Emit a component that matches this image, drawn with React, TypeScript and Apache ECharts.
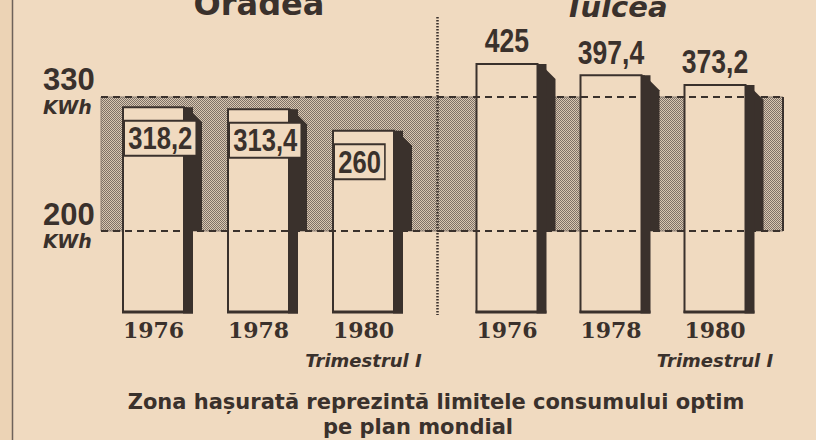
import React, { useEffect, useRef } from 'react';
import * as echarts from 'echarts';

// ---------- data ----------
const years = ['1976', '1978', '1980'];
const oradeaValues = [318.2, 313.4, 260];
const tulceaValues = [425, 397.4, 373.2];
const cityNames = ['Oradea', 'Tulcea'];
const optimumRange = [200, 330];
const unitLabel = 'KWh';
const periodNote = 'Trimestrul I';
const captionLines = [
  'Zona hașurată reprezintă limitele consumului optim',
  'pe plan mondial',
];

// ---------- style ----------
const INK = '#3a312c';
const PAPER = '#f0dac0';
const HATCH_DARK = '#7e7167';
const HATCH_LIGHT = '#d9c7b1';
const FACE_W = 61;
const SIDE_SH = 9;
const WALL_SH = 18;
const BAND_W = 682;

// axis ranges (band axis and a separate, hidden axis for the drawn bars)
const BAND_MIN = 121.42;
const BAND_MAX = 404.7;
const BAR_MIN = -188;
const BAR_MAX = 534;

const bandPx: { lo?: number; hi?: number } = {};

function fmt(v: number) {
  return String(v).replace('.', ',');
}

function makePattern(): any {
  const c = document.createElement('canvas');
  c.width = 2;
  c.height = 2;
  const ctx = c.getContext('2d')!;
  ctx.fillStyle = HATCH_LIGHT;
  ctx.fillRect(0, 0, 2, 2);
  ctx.fillStyle = HATCH_DARK;
  ctx.fillRect(0, 0, 1, 1);
  ctx.fillRect(1, 1, 1, 1);
  return { image: c, repeat: 'repeat' };
}

function renderBand(params: any, api: any) {
  const cs = params.coordSys;
  const lo = api.coord([0, api.value(1)])[1];
  const hi = api.coord([0, api.value(2)])[1];
  bandPx.lo = lo;
  bandPx.hi = hi;
  return {
    type: 'group',
    children: [
      {
        type: 'rect',
        shape: { x: cs.x, y: hi, width: BAND_W, height: lo - hi },
        style: { fill: makePattern(), stroke: '#8a7d72', lineWidth: 1 },
      },
      {
        type: 'line',
        shape: { x1: cs.x + BAND_W, y1: hi, x2: cs.x + BAND_W, y2: lo },
        style: { stroke: INK, lineWidth: 2 },
      },
    ],
  };
}

function renderEdge(params: any, api: any) {
  const cs = params.coordSys;
  const v = api.value(1);
  const y = api.coord([0, v])[1];
  return {
    type: 'group',
    children: [
      {
        type: 'line',
        shape: { x1: cs.x, y1: y, x2: cs.x + BAND_W, y2: y },
        style: { stroke: INK, lineWidth: 2, lineDash: [7, 5] },
      },
      {
        type: 'text',
        x: cs.x - 58,
        y: y - 17,
        style: {
          text: String(v),
          fontFamily: 'Liberation Sans',
          fontWeight: 'bold',
          fontSize: 31,
          lineHeight: 24,
          fill: INK,
          align: 'left',
          verticalAlign: 'middle',
        },
      },
      {
        type: 'text',
        x: cs.x - 58,
        y: y + 10,
        style: {
          text: unitLabel,
          fontFamily: 'DejaVu Sans',
          fontWeight: 'bold',
          fontStyle: 'italic',
          fontSize: 19,
          lineHeight: 15,
          fill: INK,
          align: 'left',
          verticalAlign: 'middle',
        },
      },
    ],
  };
}

function makeBarRenderer(mode: 'inside' | 'above') {
  return (params: any, api: any) => {
    const idx = api.value(0);
    const v = api.value(1);
    const pt = api.coord([idx, v]);
    const cx = pt[0];
    const top = pt[1];
    const base = api.coord([idx, BAR_MIN])[1];
    const bandLo = bandPx.lo ?? base;
    const L = cx - FACE_W / 2;
    const R = cx + FACE_W / 2;
    const children: any[] = [
      {
        type: 'polygon',
        shape: {
          points: [
            [R - 1, top],
            [R + 3, top],
            [R + WALL_SH, top + WALL_SH - 3],
            [R + WALL_SH, bandLo],
            [R - 1, bandLo],
          ],
        },
        style: { fill: INK },
      },
      {
        type: 'rect',
        shape: { x: R - 1, y: top, width: SIDE_SH + 1, height: base - top + 1.5 },
        style: { fill: INK },
      },
      {
        type: 'rect',
        shape: { x: L, y: top, width: FACE_W, height: base - top },
        style: { fill: PAPER, stroke: INK, lineWidth: 2 },
      },
      {
        type: 'line',
        shape: { x1: L - 1, y1: base, x2: R + SIDE_SH, y2: base },
        style: { stroke: INK, lineWidth: 3 },
      },
    ];
    if (mode === 'inside') {
      children.push({
        type: 'text',
        x: L + 2,
        y: top + 31,
        scaleX: 0.8,
        style: {
          text: fmt(v),
          fontFamily: 'Liberation Sans',
          fontWeight: 'bold',
          fontSize: 32,
          lineHeight: 33,
          fill: INK,
          align: 'left',
          verticalAlign: 'middle',
          backgroundColor: PAPER,
          borderColor: INK,
          borderWidth: 2,
          padding: [0, 4, 0, 4],
        },
      });
    } else {
      children.push({
        type: 'text',
        x: cx,
        y: top - 24,
        scaleX: 0.78,
        style: {
          text: fmt(v),
          fontFamily: 'Liberation Sans',
          fontWeight: 'bold',
          fontSize: 34,
          fill: INK,
          align: 'center',
          verticalAlign: 'middle',
        },
      });
    }
    return { type: 'group', children };
  };
}

function xAxisFor(gridIndex: number) {
  return {
    gridIndex,
    type: 'category',
    data: years,
    boundaryGap: true,
    axisLine: { show: false },
    axisTick: { show: false },
    splitLine: { show: false },
    axisLabel: {
      interval: 0,
      margin: 6,
      formatter: (val: string, i: number) =>
        i === years.length - 1 ? `{y|${val}}\n{t|${periodNote}}` : `{y|${val}}`,
      rich: {
        y: {
          fontFamily: 'DejaVu Serif',
          fontWeight: 'bold',
          fontSize: 22,
          color: INK,
          lineHeight: 24,
          align: 'center',
        },
        t: {
          fontFamily: 'DejaVu Sans',
          fontWeight: 'bold',
          fontStyle: 'italic',
          fontSize: 18,
          color: INK,
          lineHeight: 36,
          align: 'center',
        },
      },
    },
  };
}

function hiddenY(gridIndex: number, min: number, max: number) {
  return {
    gridIndex,
    type: 'value',
    min,
    max,
    show: false,
    splitLine: { show: false },
  };
}

function buildOption(): any {
  return {
    animation: false,
    backgroundColor: PAPER,
    grid: [
      { left: 101, width: 315, top: 20, height: 292 },
      { left: 455, width: 312, top: 20, height: 292 },
    ],
    xAxis: [xAxisFor(0), xAxisFor(1)],
    yAxis: [
      hiddenY(0, BAND_MIN, BAND_MAX),
      hiddenY(0, BAR_MIN, BAR_MAX),
      hiddenY(1, BAR_MIN, BAR_MAX),
    ],
    series: [
      {
        type: 'custom',
        name: 'band',
        xAxisIndex: 0,
        yAxisIndex: 0,
        z: 1,
        silent: true,
        encode: { x: 0, y: [1, 2] },
        data: [[0, optimumRange[0], optimumRange[1]]],
        renderItem: renderBand,
      },
      {
        type: 'custom',
        name: cityNames[0],
        xAxisIndex: 0,
        yAxisIndex: 1,
        z: 2,
        silent: true,
        encode: { x: 0, y: 1 },
        data: oradeaValues.map((v, i) => [i, v]),
        renderItem: makeBarRenderer('inside'),
      },
      {
        type: 'custom',
        name: cityNames[1],
        xAxisIndex: 1,
        yAxisIndex: 2,
        z: 2,
        silent: true,
        encode: { x: 0, y: 1 },
        data: tulceaValues.map((v, i) => [i, v]),
        renderItem: makeBarRenderer('above'),
      },
      {
        type: 'custom',
        name: 'edges',
        xAxisIndex: 0,
        yAxisIndex: 0,
        z: 3,
        silent: true,
        encode: { x: 0, y: 1 },
        data: optimumRange.map((v) => [0, v]),
        renderItem: renderEdge,
      },
    ],
    graphic: [
      {
        type: 'rect',
        z: 0,
        shape: { x: 0, y: 0, width: 12, height: 440 },
        style: { fill: '#ecd3b5' },
      },
      {
        type: 'line',
        z: 10,
        shape: { x1: 12.5, y1: 0, x2: 12.5, y2: 440 },
        style: { stroke: '#6e625a', lineWidth: 1.5 },
      },
      {
        type: 'line',
        z: 10,
        shape: { x1: 437.5, y1: 17, x2: 437.5, y2: 315 },
        style: { stroke: INK, lineWidth: 2.5, lineDash: [1.5, 1.5] },
      },
      {
        type: 'text',
        z: 10,
        x: 259,
        y: 3.5,
        style: {
          text: cityNames[0],
          fontFamily: 'DejaVu Sans',
          fontWeight: 'bold',
          fontSize: 32,
          fill: INK,
          align: 'center',
          verticalAlign: 'middle',
        },
      },
      {
        type: 'text',
        z: 10,
        x: 616,
        y: 6.5,
        style: {
          text: cityNames[1],
          fontFamily: 'DejaVu Sans',
          fontWeight: 'bold',
          fontStyle: 'italic',
          fontSize: 29,
          fill: INK,
          align: 'center',
          verticalAlign: 'middle',
        },
      },
      {
        type: 'text',
        z: 10,
        x: 436,
        y: 402,
        style: {
          text: captionLines[0],
          fontFamily: 'DejaVu Sans',
          fontWeight: 'bold',
          fontSize: 21,
          fill: INK,
          align: 'center',
          verticalAlign: 'middle',
        },
      },
      {
        type: 'text',
        z: 10,
        x: 418,
        y: 427,
        style: {
          text: captionLines[1],
          fontFamily: 'DejaVu Sans',
          fontWeight: 'bold',
          fontSize: 21,
          fill: INK,
          align: 'center',
          verticalAlign: 'middle',
        },
      },
    ],
  };
}

export default function App() {
  const ref = useRef<HTMLDivElement>(null);
  useEffect(() => {
    document.body.style.margin = '0';
    document.body.style.background = PAPER;
    const chart = echarts.init(ref.current!, null, { renderer: 'svg' });
    chart.setOption(buildOption());
    return () => {
      chart.dispose();
    };
  }, []);
  return <div ref={ref} style={{ width: 816, height: 440, background: PAPER }} />;
}
